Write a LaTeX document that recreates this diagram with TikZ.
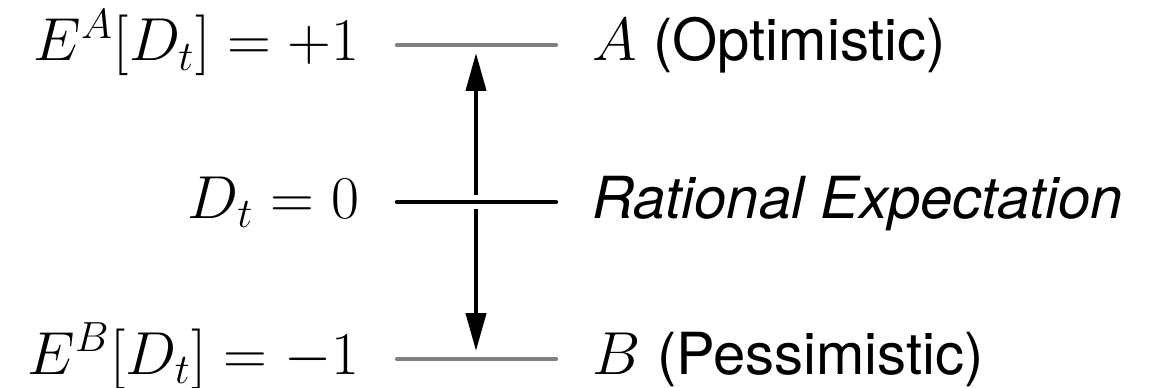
\documentclass[tikz,border=0pt]{standalone}
\usepackage{fontspec}
\newfontfamily\helv{TeX Gyre Heros}
\usetikzlibrary{arrows.meta}
\newcommand{\lblsize}{\fontsize{16.5}{20}\selectfont}
\begin{document}
\begin{tikzpicture}[every node/.style={font=\lblsize, inner sep=0pt},
  level/.style={line width=1.2pt, line cap=round},
  devarrow/.style={-{Triangle[length=3.8mm, width=2mm]}, line width=1.2pt},
  lhs/.style={anchor=base east},
  rhs/.style={anchor=base west, font=\lblsize\helv}]
  \useasboundingbox (0,0) rectangle (11.5,-3.87);
  % levels
  \coordinate (AL) at (3.97,-0.45); \coordinate (AR) at (5.56,-0.45);
  \coordinate (RL) at (3.97,-2.02); \coordinate (RR) at (5.56,-2.02);
  \coordinate (BL) at (3.97,-3.59); \coordinate (BR) at (5.56,-3.59);
  \draw[level, gray] (AL) -- (AR);
  \draw[level] (RL) -- (RR);
  \draw[level, gray] (BL) -- (BR);
  % labels
  \node[lhs] (EA) at (3.60,-0.61) {$E^A[D_t] = +1$};
  \node[lhs] (D0) at (3.60,-2.18) {$D_t = 0$};
  \node[lhs] (EB) at (3.60,-3.74) {$E^B[D_t] = -1$};
  \node[rhs] (optA) at (5.92,-0.61) {$A$ (Optimistic)};
  \node[rhs] (rat) at (5.92,-2.18) {\itshape Rational Expectation};
  \node[rhs] (pesB) at (5.92,-3.74) {$B$ (Pessimistic)};
  % deviations
  \coordinate (up0) at (4.76,-1.95); \coordinate (up1) at (4.76,-0.53);
  \coordinate (dn0) at (4.76,-2.09); \coordinate (dn1) at (4.76,-3.51);
  \draw[devarrow] (up0) -- (up1);
  \draw[devarrow] (dn0) -- (dn1);
\end{tikzpicture}
\end{document}
